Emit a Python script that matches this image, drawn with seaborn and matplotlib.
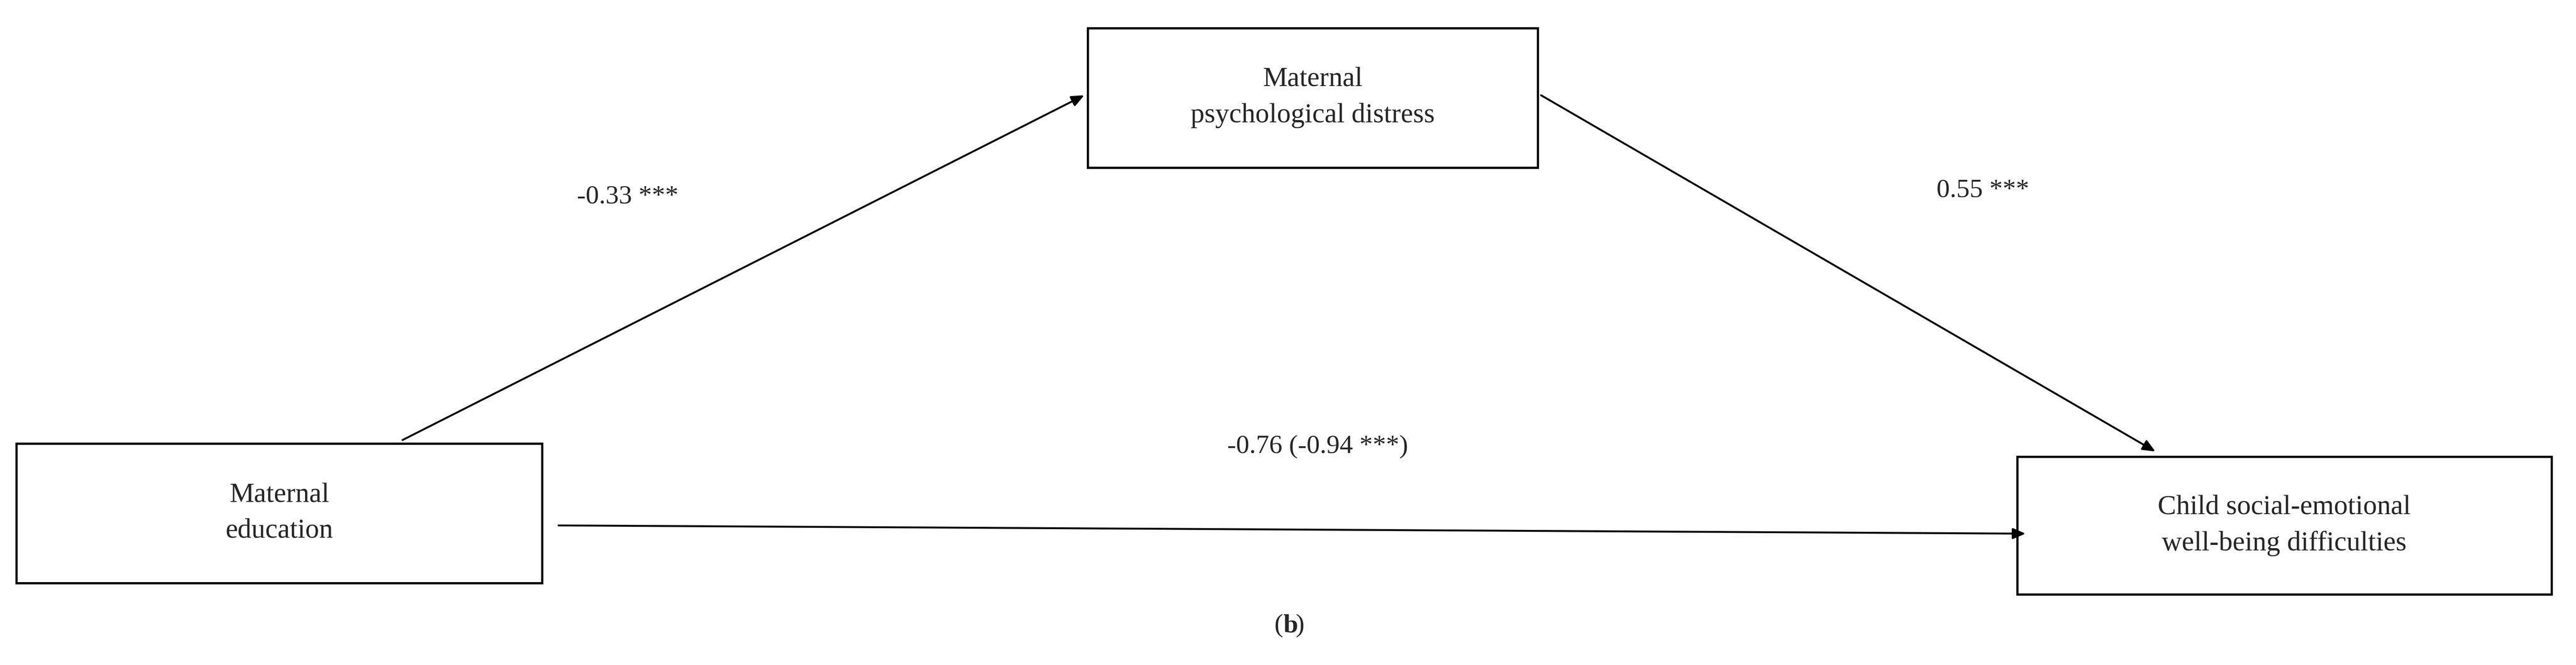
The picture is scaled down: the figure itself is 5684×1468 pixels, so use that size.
import matplotlib
matplotlib.use("Agg")
import matplotlib.pyplot as plt
import seaborn as sns

sns.set_theme(style="white")
plt.rcParams['font.family'] = ['Liberation Serif', 'DejaVu Serif']

# nodes of the mediation model
node_names = ["Maternal\neducation", "Maternal\npsychological distress",
              "Child social-emotional\nwell-being difficulties"]
node_boxes = [(10, 270, 330, 355), (662, 17, 936, 102), (1228, 278, 1553, 362)]

# paths and their coefficients
path_labels = ["-0.33 ***", "0.55 ***", "-0.76 (-0.94 ***)"]
path_ends = [((245, 268), (660, 58)), ((938, 58), (1312, 275)), ((340, 320), (1233, 325))]
label_pos = [(382, 120), (1207, 116), (802, 272)]

fig, ax = plt.subplots(figsize=(56.84, 14.68), dpi=100)
fig.subplots_adjust(0, 0, 1, 1)
ax.set_xlim(0, 1568)
ax.set_ylim(405, 0)
ax.axis("off")

for name, (x0, y0, x1, y1) in zip(node_names, node_boxes):
    ax.add_patch(plt.Rectangle((x0, y0), x1 - x0, y1 - y0, fill=False, lw=3.5, ec="black"))
    ax.text((x0 + x1) / 2, (y0 + y1) / 2, name, ha="center", va="center",
            fontsize=44, linespacing=1.55)

for (start, end) in path_ends:
    ax.annotate("", xy=end, xytext=start,
                arrowprops=dict(arrowstyle="-|>,head_length=1.4,head_width=0.6",
                                lw=3, color="black", shrinkA=0, shrinkB=0))

for lab, (x, y) in zip(path_labels, label_pos):
    ax.text(x, y, lab, ha="center", va="center", fontsize=42)

ax.text(781, 381, "(", ha="right", va="center", fontsize=42)
ax.text(781, 381, "b", ha="left", va="center", fontsize=42, fontweight="bold")
ax.text(788.5, 381, ")", ha="left", va="center", fontsize=42)

fig.savefig("out.png", dpi=100)
